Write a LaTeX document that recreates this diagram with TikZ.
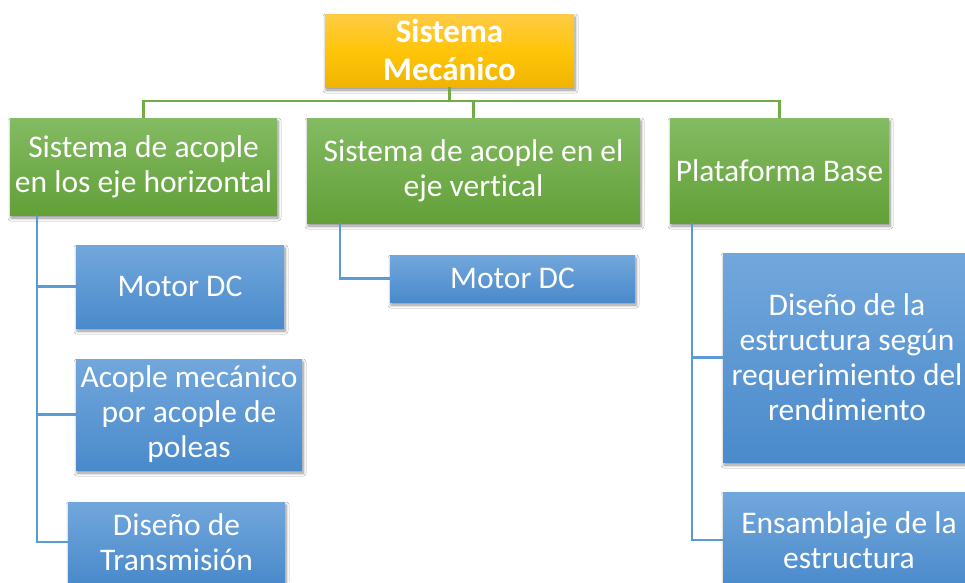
\documentclass[tikz,border=0pt]{standalone}
\usepackage{fontspec}
\setmainfont{Carlito}[Ligatures={NoCommon,NoContextual}]
\usetikzlibrary{shadows.blur}
\definecolor{gtop}{HTML}{84BB63}
\definecolor{gbot}{HTML}{62A038}
\definecolor{btop}{HTML}{72A7DC}
\definecolor{bbot}{HTML}{4A8ACB}
\definecolor{ytop}{HTML}{FFCB45}
\definecolor{ymid}{HTML}{FFC50A}
\definecolor{ybot}{HTML}{F0B400}
\definecolor{lgreen}{HTML}{70AD47}
\definecolor{lblue}{HTML}{5B9BD5}
\begin{document}
\begin{tikzpicture}[x=1pt,y=-1pt,
  box/.style={rectangle, inner sep=0pt, align=center, text=white,
    font=\fontsize{31.5}{35}\selectfont,
    blur shadow={shadow xshift=1pt, shadow yshift=-3pt, shadow blur steps=6, shadow blur radius=3pt, shadow opacity=45}},
  gbox/.style={box, top color=gtop, bottom color=gbot},
  bbox/.style={box, top color=btop, bottom color=bbot},
  rootbox/.style={box, font=\bfseries\fontsize{33}{38}\selectfont, top color=ytop, bottom color=ybot, middle color=ymid},
  gline/.style={draw=lgreen, line width=2.5pt},
  bline/.style={draw=lblue, line width=2.5pt}]
\useasboundingbox (0,0) rectangle (965,582);
\clip (0,0) rectangle (965,582);
\fill[white] (0,0) rectangle (965,582);

\node[rootbox, minimum width=249pt, minimum height=73pt] (root) at (449.5,50.5) {Sistema\\Mecánico};

\node[gbox, minimum width=267pt, minimum height=97pt] (c1) at (143.5,166.5) {Sistema de acople\\en los eje horizontal};
\node[gbox, minimum width=333pt, minimum height=105pt] (c2) at (473.5,170.5) {Sistema de acople en el\\eje vertical};
\node[gbox, minimum width=219pt, minimum height=105pt] (c3) at (779.5,170.5) {Plataforma Base};

\node[bbox, minimum width=208pt, minimum height=83pt] (m1) at (180,286.5) {Motor DC};
\node[bbox, minimum width=226pt, minimum height=111pt] (a1) at (189,414.5) {Acople mecánico\\por acople de\\poleas};
\node[bbox, minimum width=217pt, minimum height=80pt] (t1) at (176.5,542) {Diseño de\\Transmisión};

\node[bbox, minimum width=245pt, minimum height=47pt] (m2) at (512.5,278.5) {Motor DC};

\node[bbox, minimum width=248pt, minimum height=209pt] (d3) at (847,357.5) {Diseño de la\\estructura según\\requerimiento del\\rendimiento};
\node[bbox, minimum width=252pt, minimum height=96pt] (e3) at (849,540) {Ensamblaje de la\\estructura};

\coordinate (bus) at (0,101);
\draw[gline] (root.south) -- (root.south |- bus);
\draw[gline] (c1.north) |- (c3.north |- bus) -- (c3.north);
\draw[gline] (c2.north) -- (c2.north |- bus);

\coordinate (v1) at ([xshift=27pt]c1.south west);
\draw[bline] (v1) |- (t1.west);
\draw[bline] (v1 |- m1.west) -- (m1.west);
\draw[bline] (v1 |- a1.west) -- (a1.west);

\coordinate (v2) at ([xshift=33pt]c2.south west);
\draw[bline] (v2) |- (m2.west);

\coordinate (v3) at ([xshift=22pt]c3.south west);
\draw[bline] (v3) |- (e3.west);
\draw[bline] (v3 |- d3.west) -- (d3.west);
\end{tikzpicture}
\end{document}
